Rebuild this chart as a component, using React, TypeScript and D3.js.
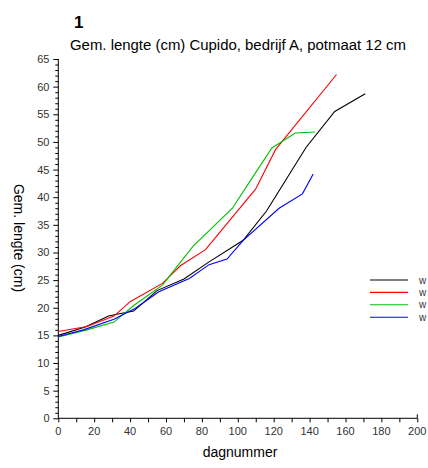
import React, { useRef, useEffect } from 'react';
import * as d3 from 'd3';

// series: [dagnummer, lengte]
const seriesBlack: [number, number][] = [
  [0, 15.0], [15, 16.5], [28, 18.5], [34, 18.9], [42, 19.4], [55, 23.1], [70, 25.2],
  [84, 28.3], [103, 32.2], [116, 37.5], [138, 49.0], [154, 55.5], [171, 58.7],
];
const seriesRed: [number, number][] = [
  [0, 15.7], [16, 16.6], [31, 18.5], [40, 21.1], [58, 24.4], [68, 27.6], [82, 30.5],
  [110, 41.5], [121, 48.6], [155, 62.2],
];
const seriesGreen: [number, number][] = [
  [0, 14.7], [16, 16.0], [31, 17.4], [42, 20.4], [58, 24.1], [75, 31.1], [97, 38.0],
  [108, 43.5], [119, 48.9], [132, 51.6], [143, 51.8],
];
const seriesBlue: [number, number][] = [
  [0, 14.8], [14, 16.0], [31, 17.9], [43, 19.9], [56, 22.9], [73, 25.3], [84, 27.8],
  [94, 28.8], [103, 32.2], [123, 38.0], [136, 40.6], [142, 44.2],
];

const seriesList = [
  { name: 'w', color: '#000000', data: seriesBlack },
  { name: 'w', color: '#ff0000', data: seriesRed },
  { name: 'w', color: '#00c000', data: seriesGreen },
  { name: 'w', color: '#0000ff', data: seriesBlue },
];

const xTicks = d3.range(0, 201, 20);
const yTicks = d3.range(0, 66, 5);

function Chart() {
  const svgRef = useRef<SVGSVGElement>(null);

  useEffect(() => {
    const svg = d3.select(svgRef.current);
    svg.selectAll('*').remove();
    const font = '"Liberation Sans", Arial, sans-serif';

    const x = d3.scaleLinear().domain([0, 200]).range([58.3, 417.3]);
    const y = d3.scaleLinear().domain([0, 65]).range([418.3, 59]);

    // x axis
    const xAxis = svg.append('g').attr('transform', `translate(0,${y(0)})`);
    xAxis.call(d3.axisBottom(x).tickValues(d3.range(0, 201, 10)).tickSize(4).tickFormat(() => ''));
    xAxis.select('.domain').attr('d', `M${x(0)},0H${x(200)}`);
    xAxis.selectAll('.tick line').attr('stroke', '#000');
    xAxis.append('line').attr('x1', x(200)).attr('x2', x(200)).attr('y1', -4).attr('y2', 0).attr('stroke', '#000');
    svg.append('g').selectAll('text').data(xTicks).enter().append('text')
      .attr('x', d => x(d)).attr('y', 435)
      .attr('text-anchor', 'middle')
      .attr('font-family', font).attr('font-size', 11).attr('fill', '#333')
      .text(d => d);

    // y axis
    const yAxis = svg.append('g').attr('transform', `translate(${x(0)},0)`);
    yAxis.call(d3.axisLeft(y).tickValues(d3.range(0, 66, 1)).tickSize(3).tickFormat(() => ''));
    yAxis.select('.domain').attr('d', `M0,${y(0)}V${y(65)}`);
    yAxis.selectAll('.tick').filter((d: any) => d % 5 === 0).select('line').attr('x2', -5);
    svg.append('g').selectAll('text').data(yTicks).enter().append('text')
      .attr('x', 49.5).attr('y', d => y(d) + 4)
      .attr('text-anchor', 'end')
      .attr('font-family', font).attr('font-size', 11).attr('fill', '#333')
      .text(d => d);

    // lines
    const line = d3.line<[number, number]>().x(d => x(d[0])).y(d => y(d[1]));
    seriesList.forEach(s => {
      svg.append('path')
        .datum(s.data)
        .attr('fill', 'none')
        .attr('stroke', s.color)
        .attr('stroke-width', 1.1)
        .attr('d', line);
    });

    // legend
    const legend = svg.append('g');
    seriesList.forEach((s, i) => {
      const ly = 280 + i * 12.4;
      legend.append('line')
        .attr('x1', 370).attr('x2', 408).attr('y1', ly).attr('y2', ly)
        .attr('stroke', s.color).attr('stroke-width', 1.1);
      legend.append('text')
        .attr('x', 419).attr('y', ly + 3.5)
        .attr('font-family', font).attr('font-size', 10).attr('fill', '#333')
        .text(s.name);
    });

    // titles
    svg.append('text').attr('x', 74).attr('y', 28)
      .attr('font-family', font).attr('font-size', 17).attr('font-weight', 'bold')
      .text('1');
    svg.append('text').attr('x', 70).attr('y', 50)
      .attr('font-family', font).attr('font-size', 14).attr('textLength', 336)
      .attr('lengthAdjust', 'spacingAndGlyphs')
      .text('Gem. lengte (cm) Cupido, bedrijf A, potmaat 12 cm');
    svg.append('text')
      .attr('transform', 'translate(14,238) rotate(90)')
      .attr('text-anchor', 'middle')
      .attr('font-family', font).attr('font-size', 14)
      .text('Gem. lengte (cm)');
    svg.append('text').attr('x', 240).attr('y', 457)
      .attr('text-anchor', 'middle')
      .attr('font-family', font).attr('font-size', 14)
      .text('dagnummer');
  }, []);

  return <svg ref={svgRef} width={428} height={468} style={{ display: 'block', background: '#fff' }}></svg>;
}

export default function App() {
  return (
    <div style={{ position: 'absolute', left: 0, top: 0 }}>
      <Chart />
    </div>
  );
}
